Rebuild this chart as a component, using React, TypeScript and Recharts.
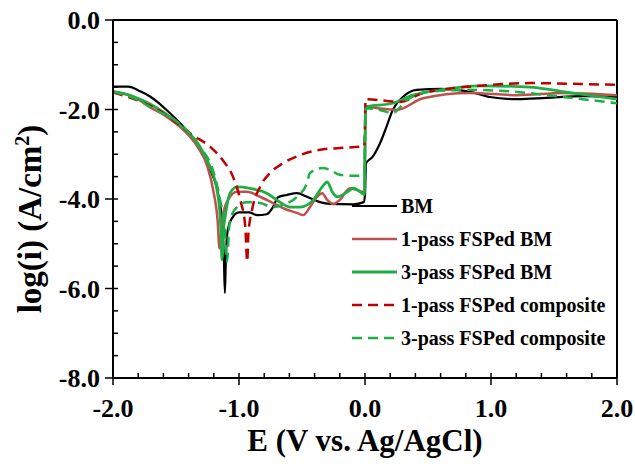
import React from "react";
import {
  LineChart,
  Line,
  XAxis,
  YAxis,
  ReferenceLine,
  Legend,
  Label,
} from "recharts";

const FONT = '"Liberation Serif", "Times New Roman", serif';

// [E (V vs. Ag/AgCl), log(i)]
const BM: [number, number][] = [
  [-2.0, -1.49], [-1.88, -1.49], [-1.78, -1.6], [-1.706, -1.71], [-1.575, -2.01],
  [-1.444, -2.38], [-1.31, -2.9], [-1.23, -3.35], [-1.167, -3.87], [-1.135, -4.5],
  [-1.12, -5.3], [-1.112, -6.1], [-1.104, -5.3], [-1.09, -4.7], [-1.06, -4.45],
  [-1.0, -4.3], [-0.92, -4.3], [-0.857, -4.36], [-0.78, -4.34], [-0.73, -4.18],
  [-0.69, -3.96], [-0.62, -3.91], [-0.54, -3.87], [-0.46, -3.95], [-0.357, -4.07],
  [-0.278, -4.11], [-0.093, -4.12], [-0.01, -4.07], [0.0, -3.9], [0.008, -3.2],
  [0.06, -3.06], [0.12, -2.75], [0.17, -2.39], [0.22, -2.01], [0.3, -1.72],
  [0.41, -1.56], [0.6, -1.54], [0.83, -1.6], [0.99, -1.72], [1.21, -1.77],
  [1.44, -1.74], [1.73, -1.7], [2.0, -1.72],
];

const PASS1_BM: [number, number][] = [
  [-2.0, -1.6], [-1.84, -1.71], [-1.71, -1.94], [-1.57, -2.17], [-1.44, -2.46],
  [-1.33, -2.83], [-1.25, -3.28], [-1.2, -3.87], [-1.17, -4.47], [-1.155, -5.1],
  [-1.13, -4.4], [-1.087, -4.02], [-1.016, -3.84], [-0.937, -3.84], [-0.833, -3.95],
  [-0.73, -4.09], [-0.62, -4.24], [-0.54, -4.31], [-0.49, -4.36], [-0.437, -4.18],
  [-0.38, -3.95], [-0.34, -3.87], [-0.3, -4.02], [-0.25, -4.11], [-0.2, -4.02],
  [-0.12, -3.76], [-0.06, -3.8], [-0.005, -3.85], [0.005, -1.94], [0.1, -1.97],
  [0.25, -2.01], [0.46, -1.75], [0.83, -1.63], [1.21, -1.68], [1.57, -1.63],
  [2.0, -1.68],
];

const PASS3_BM: [number, number][] = [
  [-2.0, -1.6], [-1.85, -1.7], [-1.71, -1.87], [-1.468, -2.35], [-1.33, -2.75],
  [-1.23, -3.28], [-1.17, -3.87], [-1.145, -4.62], [-1.135, -5.36], [-1.12, -4.6],
  [-1.11, -4.4], [-1.071, -3.87], [-1.016, -3.73], [-0.913, -3.76], [-0.78, -3.87],
  [-0.675, -4.07], [-0.595, -4.18], [-0.516, -4.18], [-0.41, -4.02], [-0.34, -3.73],
  [-0.3, -3.62], [-0.26, -3.84], [-0.22, -3.95], [-0.14, -3.84], [-0.093, -3.76],
  [-0.04, -3.84], [-0.005, -3.9], [0.005, -1.94], [0.22, -1.86], [0.38, -1.68],
  [0.6, -1.56], [0.91, -1.47], [1.31, -1.5], [1.57, -1.6], [2.0, -1.77],
];

const PASS1_COMP: [number, number][] = [
  [-2.0, -1.62], [-1.8, -1.8], [-1.6, -2.08], [-1.49, -2.31], [-1.37, -2.57],
  [-1.23, -2.83], [-1.13, -3.13], [-1.048, -3.5], [-0.99, -4.02], [-0.95, -4.62],
  [-0.935, -5.4], [-0.925, -4.76], [-0.897, -4.25], [-0.833, -3.73], [-0.754, -3.42],
  [-0.65, -3.2], [-0.516, -3.02], [-0.357, -2.9], [-0.2, -2.86], [-0.005, -2.82],
  [0.005, -1.77], [0.28, -1.83], [0.46, -1.63], [0.65, -1.54], [0.91, -1.47],
  [1.31, -1.41], [1.71, -1.43], [2.0, -1.45],
];

const PASS3_COMP: [number, number][] = [
  [-2.0, -1.6], [-1.8, -1.79], [-1.69, -1.97], [-1.49, -2.28], [-1.31, -2.83],
  [-1.2, -3.42], [-1.15, -4.02], [-1.11, -4.76], [-1.095, -5.4], [-1.08, -4.7],
  [-1.071, -4.47], [-1.016, -4.18], [-0.937, -4.07], [-0.833, -4.09], [-0.73, -4.18],
  [-0.65, -4.13], [-0.54, -3.95], [-0.46, -3.64], [-0.437, -3.42], [-0.34, -3.31],
  [-0.278, -3.35], [-0.2, -3.46], [-0.1, -3.48], [-0.005, -3.48], [0.005, -1.97],
  [0.1, -2.0], [0.22, -2.08], [0.33, -1.79], [0.52, -1.6], [0.83, -1.56],
  [1.17, -1.6], [1.57, -1.72], [2.0, -1.86],
];

const X_TICKS = [
  -2, -1.8, -1.6, -1.4, -1.2, -1, -0.8, -0.6, -0.4, -0.2, 0,
  0.2, 0.4, 0.6, 0.8, 1, 1.2, 1.4, 1.6, 1.8, 2,
];
const Y_TICKS = [
  -8, -7.5, -7, -6.5, -6, -5.5, -5, -4.5, -4, -3.5, -3, -2.5, -2, -1.5, -1, -0.5, 0,
];

const SERIES = [
  { name: "BM", data: BM, color: "#000000", width: 2.2, dash: undefined },
  { name: "1-pass FSPed BM", data: PASS1_BM, color: "#c0504d", width: 2.5, dash: undefined },
  { name: "3-pass FSPed BM", data: PASS3_BM, color: "#1fae45", width: 2.8, dash: undefined },
  { name: "1-pass FSPed composite", data: PASS1_COMP, color: "#c00000", width: 2.5, dash: "10 6" },
  { name: "3-pass FSPed composite", data: PASS3_COMP, color: "#1fae45", width: 2.5, dash: "10 6" },
];

const isMajor = (v: number, step: number) =>
  Math.abs(v / step - Math.round(v / step)) < 1e-9;

const textStyle = (size: number) => ({
  fontFamily: FONT,
  fontWeight: "bold" as const,
  fontSize: size,
  fill: "#000",
});

function XTick(props: any) {
  const { x, y, payload } = props;
  const v = payload.value as number;
  if (!isMajor(v, 1)) {
    return <line x1={x} x2={x} y1={y} y2={y - 5} stroke="#000" strokeWidth={1.5} />;
  }
  return (
    <g>
      <line x1={x} x2={x} y1={y - 5} y2={y + 7} stroke="#000" strokeWidth={1.5} />
      <text x={x} y={y + 39} textAnchor="middle" fontFamily={FONT} style={textStyle(26)}>
        {v.toFixed(1)}
      </text>
    </g>
  );
}

function YTick(props: any) {
  const { x, y, payload } = props;
  const v = payload.value as number;
  if (!isMajor(v, 2)) {
    return <line x1={x} x2={x + 5} y1={y} y2={y} stroke="#000" strokeWidth={1.5} />;
  }
  return (
    <g>
      <line x1={x - 8} x2={x + 5} y1={y} y2={y} stroke="#000" strokeWidth={1.5} />
      <text x={x - 13} y={y + 9} textAnchor="end" fontFamily={FONT} style={textStyle(26)}>
        {v.toFixed(1)}
      </text>
    </g>
  );
}

function renderLegend() {
  return (
    <svg width={285} height={170}>
      {SERIES.map((s, i) => {
        const cy = 19 + i * 33;
        return (
          <g key={s.name}>
            <line
              x1={8}
              x2={53}
              y1={cy}
              y2={cy}
              stroke={s.color}
              strokeWidth={s.width}
              strokeDasharray={s.dash}
            />
            <text x={57} y={cy + 7} fontFamily={FONT} style={textStyle(20)}>
              {s.name}
            </text>
          </g>
        );
      })}
    </svg>
  );
}

export default function App() {
  return (
    <div style={{ position: "absolute", left: 0, top: 0 }}>
      <LineChart
        width={635}
        height={464}
        margin={{ top: 20, right: 18, bottom: 0, left: 0 }}
      >
        <XAxis
          type="number"
          dataKey="x"
          domain={[-2, 2]}
          ticks={X_TICKS}
          interval={0}
          tickSize={0}
          tickMargin={0}
          tickLine={false}
          tick={<XTick />}
          height={86}
          axisLine={{ stroke: "#000", strokeWidth: 2 }}
          allowDataOverflow
        >
          <Label
            content={(p: any) => {
              const vb = p.viewBox;
              return (
                <text
                  x={vb.x + vb.width / 2}
                  y={vb.y + 73}
                  textAnchor="middle"
                  fontFamily={FONT}
                  style={textStyle(31)}
                >
                  E (V vs. Ag/AgCl)
                </text>
              );
            }}
          />
        </XAxis>
        <YAxis
          type="number"
          dataKey="y"
          domain={[-8, 0]}
          ticks={Y_TICKS}
          interval={0}
          tickSize={0}
          tickMargin={0}
          tickLine={false}
          tick={<YTick />}
          width={113}
          axisLine={{ stroke: "#000", strokeWidth: 2 }}
          allowDataOverflow
        >
          <Label
            content={() => {
              const cx = 41;
              const cy = 219;
              return (
                <text
                  x={cx}
                  y={cy}
                  transform={`rotate(-90 ${cx} ${cy})`}
                  textAnchor="middle"
                  fontFamily={FONT}
                  style={textStyle(33)}
                >
                  log(i) (A/cm
                  <tspan dy={-12} fontSize={20}>2</tspan>
                  <tspan dy={12}>)</tspan>
                </text>
              );
            }}
          />
        </YAxis>
        <ReferenceLine y={0} stroke="#000" strokeWidth={2} />
        <ReferenceLine x={2} stroke="#000" strokeWidth={2} />
        {SERIES.map((s) => (
          <Line
            key={s.name}
            name={s.name}
            data={s.data.map(([x, y]) => ({ x, y }))}
            dataKey="y"
            type="monotone"
            stroke={s.color}
            strokeWidth={s.width}
            strokeDasharray={s.dash}
            dot={false}
            activeDot={false}
            isAnimationActive={false}
          />
        ))}
        <Legend
          layout="vertical"
          align="center"
          verticalAlign="middle"
          content={renderLegend}
          wrapperStyle={{ left: 344, top: 187, width: 285, height: 170 }}
        />
      </LineChart>
    </div>
  );
}
